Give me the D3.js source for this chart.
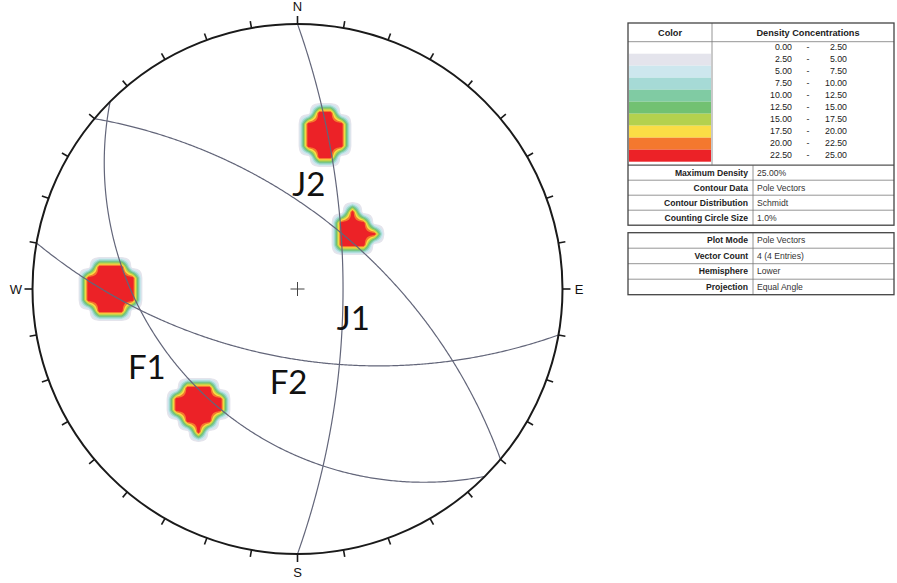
<!DOCTYPE html>
<html>
<head>
<meta charset="utf-8">
<script src="https://cdn.jsdelivr.net/npm/d3@7"></script>
<style>
  html, body { margin: 0; padding: 0; background: #ffffff; }
  svg { display: block; }
</style>
</head>
<body>
<svg id="chart" width="897" height="583"></svg>
<script>
// ---- Data -------------------------------------------------------------
// Discontinuity planes (dip direction / dip, degrees); their poles feed the density grid
const planeDipDir = [90, 40, 225, 190];
const planeDip    = [70.5, 60, 34, 60.5];
const setLabels   = ["J1", "F1", "F2", "J2"];

// Density concentration classes (% of poles per counting circle)
const densityBreaks = [0, 2.5, 5, 7.5, 10, 12.5, 15, 17.5, 20, 22.5, 25];
const densityColors = ["#ffffff", "#e4e4ec", "#cde7ee", "#a6dad6", "#80cba3",
                       "#72c172", "#b4d14e", "#fbdd45", "#f4782e", "#ec2227"];

// Stereonet settings
const countingCirclePct = 1.0;          // counting circle, % of hemisphere area
const cardinalLabels = ["N", "E", "S", "W"];

// Summary tables
const contourKeys   = ["Maximum Density", "Contour Data", "Contour Distribution", "Counting Circle Size"];
const contourValues = ["25.00%", "Pole Vectors", "Schmidt", "1.0%"];
const plotKeys      = ["Plot Mode", "Vector Count", "Hemisphere", "Projection"];
const plotValues    = ["Pole Vectors", "4 (4 Entries)", "Lower", "Equal Angle"];

// ---- Geometry ---------------------------------------------------------
const svg = d3.select("#chart");
const cx = 297.5, cy = 289, R = 265;
const rad = Math.PI / 180;

// unit projection coordinates (east, north) -> screen
const x = d3.scaleLinear().domain([-1, 1]).range([cx - R, cx + R]);
const y = d3.scaleLinear().domain([-1, 1]).range([cy + R, cy - R]);

// equal-angle (stereographic) lower-hemisphere projection of a line
function project(trend, plunge) {
  const r = Math.tan((90 - plunge) * rad / 2);
  return [r * Math.sin(trend * rad), r * Math.cos(trend * rad)];
}

// great circle of a plane, traced from strike to strike
function greatCircle(dd, dip) {
  const a = dd * rad, d = dip * rad, s = a - Math.PI / 2;
  const pts = [];
  for (let b = 0; b <= 180; b += 0.5) {
    const br = b * rad;
    const n = Math.cos(br) * Math.cos(s) + Math.sin(br) * Math.cos(a) * Math.cos(d);
    const e = Math.cos(br) * Math.sin(s) + Math.sin(br) * Math.sin(a) * Math.cos(d);
    const dn = Math.sin(br) * Math.sin(d);
    pts.push(project(Math.atan2(e, n) / rad, Math.asin(Math.min(1, dn)) / rad));
  }
  return pts;
}

// poles (trend / plunge) as unit direction vectors (north, east, down)
const poles = planeDipDir.map((dd, i) => {
  const t = (dd + 180) * rad, p = (90 - planeDip[i]) * rad;
  return [Math.cos(p) * Math.cos(t), Math.cos(p) * Math.sin(t), Math.sin(p)];
});

// ---- Density grid (Schmidt counting circle) ------------------------------
const cosCone = 1 - countingCirclePct / 100;
const cellPx = 11;
const step = cellPx / R;
const half = Math.ceil(1.05 / step);
const M = 2 * half + 1;
const coarse = new Float64Array(M * M);
for (let j = 0; j < M; j++) {
  for (let i = 0; i < M; i++) {
    const ue = (i - half) * step, vn = (half - j) * step;
    const rho = Math.hypot(ue, vn);
    if (rho > 1) continue;
    const th = 2 * Math.atan(rho), tr = Math.atan2(ue, vn);
    const v = [Math.sin(th) * Math.cos(tr), Math.sin(th) * Math.sin(tr), Math.cos(th)];
    let count = 0;
    poles.forEach(p => {
      if (Math.abs(p[0] * v[0] + p[1] * v[1] + p[2] * v[2]) >= cosCone) count++;
    });
    coarse[j * M + i] = 100 * count / poles.length;
  }
}
// bilinear refinement so the class boundaries come out rounded
const k = 6;
const W = (M - 1) * k + 1;
const fine = new Float64Array(W * W);
for (let fj = 0; fj < W; fj++) {
  const j0 = Math.min(M - 2, Math.floor(fj / k)), ty = fj / k - j0;
  for (let fi = 0; fi < W; fi++) {
    const i0 = Math.min(M - 2, Math.floor(fi / k)), tx = fi / k - i0;
    const a = coarse[j0 * M + i0], b = coarse[j0 * M + i0 + 1];
    const c = coarse[(j0 + 1) * M + i0], e = coarse[(j0 + 1) * M + i0 + 1];
    fine[fj * W + fi] = (a * (1 - tx) + b * tx) * (1 - ty) + (c * (1 - tx) + e * tx) * ty;
  }
}
const fstep = step / k;
const gridToScreen = d3.geoTransform({
  point: function (gx, gy) {
    this.stream.point(x(-half * step + (gx - 0.5) * fstep), y(half * step - (gy - 0.5) * fstep));
  }
});
const contourPath = d3.geoPath(gridToScreen);
const bands = d3.contours().size([W, W]).thresholds(densityBreaks.slice(1, -1))(Array.from(fine));

// ---- Drawing ------------------------------------------------------------
svg.append("rect").attr("width", 897).attr("height", 583).attr("fill", "#ffffff");

svg.append("clipPath").attr("id", "net")
  .append("circle").attr("cx", cx).attr("cy", cy).attr("r", R);

const net = svg.append("g");
net.append("g").attr("clip-path", "url(#net)")
  .selectAll("path").data(bands).join("path")
  .attr("d", contourPath)
  .attr("fill", d => densityColors[densityBreaks.indexOf(d.value)])
  .attr("stroke", "none");

// great circles
const line = d3.line().x(d => x(d[0])).y(d => y(d[1])).curve(d3.curveLinear);
net.append("g").selectAll("path").data(planeDipDir).join("path")
  .attr("d", (dd, i) => line(greatCircle(dd, planeDip[i])))
  .attr("fill", "none").attr("stroke", "#63667a").attr("stroke-width", 1.2);

// primitive circle and 10-degree ticks
net.append("circle").attr("cx", cx).attr("cy", cy).attr("r", R)
  .attr("fill", "none").attr("stroke", "#1a1a1a").attr("stroke-width", 2);
const ticks = d3.range(0, 360, 10);
net.append("g").selectAll("line").data(ticks).join("line")
  .attr("x1", a => cx + R * Math.sin(a * rad))
  .attr("y1", a => cy - R * Math.cos(a * rad))
  .attr("x2", a => cx + (R + (a % 90 === 0 ? 8 : 7)) * Math.sin(a * rad))
  .attr("y2", a => cy - (R + (a % 90 === 0 ? 8 : 7)) * Math.cos(a * rad))
  .attr("stroke", "#1a1a1a").attr("stroke-width", 1.6);

// cardinal letters
net.append("g").selectAll("text").data(cardinalLabels).join("text")
  .attr("x", (t, i) => cx + (R + 16.5) * Math.sin(i * 90 * rad))
  .attr("y", (t, i) => cy - (R + 18) * Math.cos(i * 90 * rad) + 5)
  .attr("text-anchor", "middle")
  .attr("font-family", "Liberation Sans, Arial, sans-serif")
  .attr("font-size", 13).attr("fill", "#111")
  .text(t => t);

// centre mark
net.append("path")
  .attr("d", `M${cx - 7},${cy}H${cx + 7}M${cx},${cy - 7}V${cy + 7}`)
  .attr("stroke", "#444").attr("stroke-width", 1);

// set labels, anchored in projection coordinates (left edge, baseline)
const labelAnchors = { J1: [0.148, -0.155], F1: [-0.64, -0.34], F2: [-0.105, -0.395], J2: [-0.02, 0.35] };
net.append("g").selectAll("text").data(setLabels).join("text")
  .attr("x", t => x(labelAnchors[t][0]))
  .attr("y", t => y(labelAnchors[t][1]))
  .attr("font-family", "Lato, 'Open Sans', sans-serif")
  .attr("font-size", 33).attr("fill", "#111")
  .text(t => t);

// ---- Legend tables ---------------------------------------------------
const tx0 = 628, tx1 = 894, colDiv = 712, keyDiv = 753;
const font = "Liberation Sans, Arial, sans-serif";
const leg = svg.append("g");
const rowH = 12;
const tableTop = 23, headH = 18.7;
const swTop = tableTop + headH;

// colour swatches
leg.selectAll("rect.sw").data(densityColors).join("rect").attr("class", "sw")
  .attr("x", tx0 + 1).attr("width", colDiv - tx0 - 2)
  .attr("y", (c, i) => swTop + i * rowH).attr("height", rowH)
  .attr("fill", c => c);

// class ranges
const rangeRows = leg.selectAll("g.rng").data(densityColors).join("g").attr("class", "rng")
  .attr("transform", (c, i) => `translate(0,${swTop + i * rowH + rowH / 2 + 2.5})`)
  .attr("font-family", font).attr("font-size", 8.8).attr("fill", "#222");
rangeRows.append("text").attr("x", 792).attr("text-anchor", "end")
  .text((c, i) => densityBreaks[i].toFixed(2));
rangeRows.append("text").attr("x", 808).attr("text-anchor", "middle").text("-");
rangeRows.append("text").attr("x", 847).attr("text-anchor", "end")
  .text((c, i) => densityBreaks[i + 1].toFixed(2));

// header
leg.append("text").attr("x", (tx0 + colDiv) / 2).attr("y", tableTop + 12.5)
  .attr("text-anchor", "middle").attr("font-family", font).attr("font-size", 9.2)
  .attr("font-weight", "bold").attr("fill", "#222").text("Color");
leg.append("text").attr("x", 808).attr("y", tableTop + 12.5)
  .attr("text-anchor", "middle").attr("font-family", font).attr("font-size", 9.2)
  .attr("font-weight", "bold").attr("fill", "#222").text("Density Concentrations");

const grid = "#7a7a7a";
const sec2Top = swTop + densityColors.length * rowH + 3.5;
const kvH = 15;
function keyValueRows(keys, values, y0, h) {
  const g = leg.append("g").attr("font-family", font).attr("font-size", 8.6).attr("fill", "#222");
  g.selectAll("text.k").data(keys).join("text").attr("class", "k")
    .attr("x", keyDiv - 5).attr("y", (t, i) => y0 + i * h + h / 2 + 3)
    .attr("text-anchor", "end").attr("font-weight", "bold").text(t => t);
  g.selectAll("text.v").data(values).join("text").attr("class", "v")
    .attr("x", keyDiv + 4).attr("y", (t, i) => y0 + i * h + h / 2 + 3)
    .attr("fill", "#333").text(t => t);
  g.selectAll("line.r").data(d3.range(1, keys.length)).join("line").attr("class", "r")
    .attr("x1", tx0).attr("x2", tx1)
    .attr("y1", i => y0 + i * h).attr("y2", i => y0 + i * h)
    .attr("stroke", grid).attr("stroke-width", 0.8);
  g.append("line").attr("x1", keyDiv).attr("x2", keyDiv)
    .attr("y1", y0).attr("y2", y0 + keys.length * h)
    .attr("stroke", grid).attr("stroke-width", 0.8);
}
keyValueRows(contourKeys, contourValues, sec2Top, kvH);
const box1Bottom = sec2Top + contourKeys.length * kvH;
const box2Top = box1Bottom + 7.5, kvH2 = 15.5;
keyValueRows(plotKeys, plotValues, box2Top, kvH2);
const box2Bottom = box2Top + plotKeys.length * kvH2;

// table rules
leg.append("line").attr("x1", tx0).attr("x2", tx1).attr("y1", swTop).attr("y2", swTop)
  .attr("stroke", grid).attr("stroke-width", 0.8);
leg.append("line").attr("x1", tx0).attr("x2", tx1).attr("y1", sec2Top).attr("y2", sec2Top)
  .attr("stroke", "#555").attr("stroke-width", 1.2);
leg.append("line").attr("x1", colDiv).attr("x2", colDiv).attr("y1", tableTop).attr("y2", sec2Top)
  .attr("stroke", grid).attr("stroke-width", 0.8);
leg.append("rect").attr("x", tx0).attr("y", tableTop).attr("width", tx1 - tx0).attr("height", box1Bottom - tableTop)
  .attr("fill", "none").attr("stroke", "#444").attr("stroke-width", 1.3);
leg.append("rect").attr("x", tx0).attr("y", box2Top).attr("width", tx1 - tx0).attr("height", box2Bottom - box2Top)
  .attr("fill", "none").attr("stroke", "#444").attr("stroke-width", 1.3);
</script>
</body>
</html>
